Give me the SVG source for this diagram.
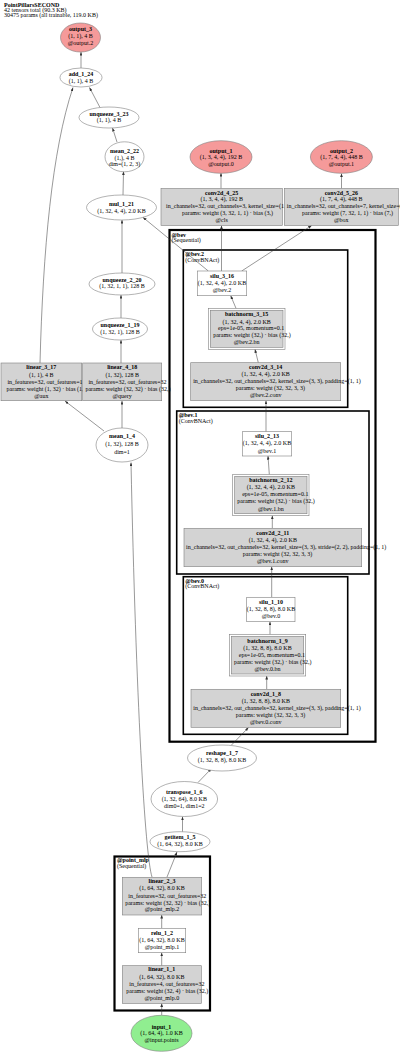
<svg xmlns="http://www.w3.org/2000/svg" width="400" height="1053" viewBox="0 0 400 1053">
<style>
text{font-family:"Liberation Serif","Times New Roman",serif;font-size:6px;fill:#000}
.c{text-anchor:middle}
.b{font-weight:bold}
.hd{font-size:6px}
.n{fill:#fff;stroke:#7f7f7f;stroke-width:0.6}
.g{fill:#d3d3d3;stroke:#7f7f7f;stroke-width:0.6}
.o{fill:#f59a9a;stroke:#7f7f7f;stroke-width:0.6}
.i{fill:#90ee90;stroke:#7f7f7f;stroke-width:0.6}
.pe{fill:none;stroke:#7f7f7f;stroke-width:0.6}
.cl{fill:none;stroke:#000;stroke-width:1.6}
.cl2{fill:none;stroke:#000;stroke-width:2.2}
.e{fill:none;stroke:#333;stroke-width:0.5;marker-end:url(#ah)}
</style>
<defs>
<marker id="ah" markerUnits="userSpaceOnUse" markerWidth="3.6" markerHeight="2.8" viewBox="0 0 10 10" refX="10" refY="5" orient="auto" preserveAspectRatio="none">
<path d="M0,0 L10,5 L0,10 z" fill="#333"/>
</marker>
</defs>
<rect width="400" height="1053" fill="#fff"/>
<g id="header">
<text class="hd b" x="4" y="6.5">PointPillarsSECOND</text>
<text class="hd" x="4" y="11.8">42 tensors total (90.3 KB)</text>
<text class="hd" x="4" y="17">30475 params (all trainable, 119.0 KB)</text>
</g>
<g id="clusters">
<g id="cluster_bev"><rect class="cl2" x="169.5" y="230" width="206" height="511.7"/><text class="b" x="171.5" y="236.5">@bev</text><text x="171.5" y="242.3">(Sequential)</text></g>
<g id="cluster_bev2"><rect class="cl" x="183.3" y="250" width="164.4" height="157.3"/><text class="b" x="185.3" y="256">@bev.2</text><text x="185.3" y="261.5">(ConvBNAct)</text></g>
<g id="cluster_bev1"><rect class="cl" x="176.7" y="411" width="192.3" height="163"/><text class="b" x="178.7" y="417">@bev.1</text><text x="178.7" y="422.5">(ConvBNAct)</text></g>
<g id="cluster_bev0"><rect class="cl" x="183.3" y="576.7" width="164.4" height="157.6"/><text class="b" x="185.3" y="582.7">@bev.0</text><text x="185.3" y="588.2">(ConvBNAct)</text></g>
<g id="cluster_point_mlp"><rect class="cl2" x="114.5" y="856.5" width="95.5" height="154"/><text class="b" x="117" y="862.3">@point_mlp</text><text x="117" y="867.8">(Sequential)</text></g>
</g>
<g id="connectors">
<path class="e" d="M81,68 L81,52"/>
<path class="e" d="M100,107.5 L89.5,87.5"/>
<path class="e" d="M40,363 C43,250 52,150 73,87.5"/>
<path class="e" d="M117,142 L112.5,128"/>
<path class="e" d="M123,195 L123.5,171.5"/>
<path class="e" d="M122,273 L122,220"/>
<path class="e" d="M121,318 L121,295"/>
<path class="e" d="M121,363 L121,340"/>
<path class="e" d="M122,428 L122,401"/>
<path class="e" d="M104,431 L65,401"/>
<path class="e" d="M152,877 C145,855 136,700 131,462.5"/>
<path class="e" d="M167,877 L177,852"/>
<path class="e" d="M182.5,831.7 L182.5,816.7"/>
<path class="e" d="M198,782.5 L211.5,768.5"/>
<path class="e" d="M231.5,745 L248.5,727.5"/>
<path class="e" d="M266.7,689.3 L266.7,676"/>
<path class="e" d="M270,634.3 L270,621.7"/>
<path class="e" d="M271.7,597.3 L271.7,566.7"/>
<path class="e" d="M272.3,528.3 L272.3,515.7"/>
<path class="e" d="M269.3,474.3 L268,456"/>
<path class="e" d="M266,431.7 L266,400.7"/>
<path class="e" d="M258.3,362.7 L255,349.3"/>
<path class="e" d="M236,308.3 L230.7,295.7"/>
<path class="e" d="M221.5,271 L221.5,225.5"/>
<path class="e" d="M241.7,271 L311.7,225.5"/>
<path class="e" d="M208.3,271 L143,217.4"/>
<path class="e" d="M221,188.5 L221,173"/>
<path class="e" d="M341.5,188.5 L341.5,173.5"/>
<path class="e" d="M161.7,1015.3 L161.7,1003.4"/>
<path class="e" d="M161.7,965.7 L161.7,952.7"/>
<path class="e" d="M161.7,928.3 L161.7,915"/>
</g>
<g id="output_3"><ellipse class="o" cx="80.5" cy="37.5" rx="20" ry="14.5"/><text class="c b" x="80.5" y="31.3">output_3</text><text class="c" x="80.5" y="38.3">(1, 1), 4 B</text><text class="c" x="80.5" y="45.3">@output.2</text></g>
<g id="add_1_24"><ellipse class="n" cx="81" cy="77.5" rx="21" ry="9.5"/><text class="c b" x="81" y="76">add_1_24</text><text class="c" x="81" y="83">(1, 1), 4 B</text></g>
<g id="unqueeze_3_23"><ellipse class="n" cx="109" cy="117.5" rx="30" ry="10.5"/><text class="c b" x="109" y="115.5">unqueeze_3_23</text><text class="c" x="109" y="122">(1, 1), 4 B</text></g>
<g id="mean_2_22"><ellipse class="n" cx="124.5" cy="156.8" rx="19.5" ry="15"/><text class="c b" x="124.5" y="152.5">mean_2_22</text><text class="c" x="124.5" y="159.5">(1,), 4 B</text><text class="c" x="124.5" y="166.3">dim=(1, 2, 3)</text></g>
<g id="mul_1_21"><ellipse class="n" cx="121.5" cy="207.5" rx="35" ry="12.5"/><text class="c b" x="121.5" y="206.3">mul_1_21</text><text class="c" x="121.5" y="212.8">(1, 32, 4, 4), 2.0 KB</text></g>
<g id="unqueeze_2_20"><ellipse class="n" cx="122" cy="284" rx="33" ry="11"/><text class="c b" x="122" y="281.5">unqueeze_2_20</text><text class="c" x="122" y="288">(1, 32, 1, 1), 128 B</text></g>
<g id="unqueeze_1_19"><ellipse class="n" cx="120" cy="329" rx="27.5" ry="11"/><text class="c b" x="120" y="327">unqueeze_1_19</text><text class="c" x="120" y="333.7">(1, 32, 1), 128 B</text></g>
<g id="linear_3_17"><rect class="g" x="1" y="363" width="80.7" height="37.7"/><text class="c b" x="41.3" y="369.3">linear_3_17</text><text class="c" x="41.3" y="376.6">(1, 1), 4 B</text><text class="c" x="45" y="383.6">in_features=32, out_features=1</text><text class="c" x="46" y="390.5">params: weight (1, 32) · bias (1,)</text><text class="c" x="41.3" y="397.6">@aux</text></g>
<g id="linear_4_18"><rect class="g" x="82.7" y="363" width="79" height="37.7"/><text class="c b" x="122.2" y="369.3">linear_4_18</text><text class="c" x="122.2" y="376.6">(1, 32), 128 B</text><text class="c" x="127.5" y="383.6">in_features=32, out_features=32</text><text class="c" x="127.9" y="390.5">params: weight (32, 32) · bias (32,)</text><text class="c" x="122.2" y="397.6">@query</text></g>
<g id="mean_1_4"><ellipse class="n" cx="122" cy="445" rx="26" ry="17"/><text class="c b" x="122" y="438.3">mean_1_4</text><text class="c" x="122" y="446">(1, 32), 128 B</text><text class="c" x="122" y="453.5">dim=1</text></g>
<g id="output_1"><ellipse class="o" cx="221" cy="157" rx="31" ry="16.3"/><text class="c b" x="221" y="152.6">output_1</text><text class="c" x="221" y="159.4">(1, 3, 4, 4), 192 B</text><text class="c" x="221" y="166.2">@output.0</text></g>
<g id="output_2"><ellipse class="o" cx="341.4" cy="157" rx="31" ry="16.3"/><text class="c b" x="341.4" y="152.6">output_2</text><text class="c" x="341.4" y="159.4">(1, 7, 4, 4), 448 B</text><text class="c" x="341.4" y="166.2">@output.1</text></g>
<g id="conv2d_4_25"><rect class="g" x="161" y="188.5" width="121.3" height="37"/><text class="c b" x="221.7" y="194.5">conv2d_4_25</text><text class="c" x="221.7" y="201.3">(1, 3, 4, 4), 192 B</text><text class="c" x="229" y="208">in_channels=32, out_channels=3, kernel_size=(1, 1)</text><text class="c" x="227.5" y="214.7">params: weight (3, 32, 1, 1) · bias (3,)</text><text class="c" x="221.7" y="221.5">@cls</text></g>
<g id="conv2d_5_26"><rect class="g" x="284.3" y="188.5" width="114" height="37"/><text class="c b" x="341.3" y="194.5">conv2d_5_26</text><text class="c" x="341.3" y="201.3">(1, 7, 4, 4), 448 B</text><text class="c" x="349.7" y="208">in_channels=32, out_channels=7, kernel_size=(1, 1)</text><text class="c" x="347.5" y="214.7">params: weight (7, 32, 1, 1) · bias (7,)</text><text class="c" x="341.3" y="221.5">@box</text></g>
<g id="silu_3_16"><rect class="n" x="197.3" y="271" width="49.4" height="24.7"/><text class="c b" x="222" y="277.7">silu_3_16</text><text class="c" x="222" y="284.7">(1, 32, 4, 4), 2.0 KB</text><text class="c" x="222" y="292">@bev.2</text></g>
<g id="batchnorm_3_15"><rect class="pe" x="208.3" y="308.3" width="76.7" height="41"/><rect class="g" x="210.3" y="310.3" width="72.7" height="37"/><text class="c b" x="246.7" y="316.3">batchnorm_3_15</text><text class="c" x="246.7" y="323.7">(1, 32, 4, 4), 2.0 KB</text><text class="c" x="251.2" y="330.4">eps=1e-05, momentum=0.1</text><text class="c" x="251.9" y="337.3">params: weight (32,) · bias (32,)</text><text class="c" x="246.7" y="344.3">@bev.2.bn</text></g>
<g id="conv2d_3_14"><rect class="g" x="190.7" y="362.7" width="150" height="38"/><text class="c b" x="265.7" y="369.3">conv2d_3_14</text><text class="c" x="265.7" y="376.3">(1, 32, 4, 4), 2.0 KB</text><text class="c" x="276.9" y="383.1">in_channels=32, out_channels=32, kernel_size=(3, 3), padding=(1, 1)</text><text class="c" x="270.4" y="390">params: weight (32, 32, 3, 3)</text><text class="c" x="265.7" y="397">@bev.2.conv</text></g>
<g id="silu_2_13"><rect class="n" x="242.3" y="431.7" width="49.4" height="24.3"/><text class="c b" x="267" y="438">silu_2_13</text><text class="c" x="267" y="445.3">(1, 32, 4, 4), 2.0 KB</text><text class="c" x="267" y="452.7">@bev.1</text></g>
<g id="batchnorm_2_12"><rect class="pe" x="232.7" y="474.3" width="76.3" height="41.4"/><rect class="g" x="234.7" y="476.3" width="72.3" height="37.4"/><text class="c b" x="270.8" y="482">batchnorm_2_12</text><text class="c" x="270.8" y="489.3">(1, 32, 4, 4), 2.0 KB</text><text class="c" x="275.3" y="496.3">eps=1e-05, momentum=0.1</text><text class="c" x="276" y="503.3">params: weight (32,) · bias (32,)</text><text class="c" x="270.8" y="510.7">@bev.1.bn</text></g>
<g id="conv2d_2_11"><rect class="g" x="184" y="528.3" width="177.7" height="38.4"/><text class="c b" x="272.8" y="535">conv2d_2_11</text><text class="c" x="272.8" y="542.3">(1, 32, 4, 4), 2.0 KB</text><text class="c" x="286.2" y="549">in_channels=32, out_channels=32, kernel_size=(3, 3), stride=(2, 2), padding=(1, 1)</text><text class="c" x="277.5" y="556">params: weight (32, 32, 3, 3)</text><text class="c" x="272.8" y="563.3">@bev.1.conv</text></g>
<g id="silu_1_10"><rect class="n" x="246.7" y="597.3" width="48.3" height="24.4"/><text class="c b" x="271" y="604.3">silu_1_10</text><text class="c" x="271" y="611.3">(1, 32, 8, 8), 8.0 KB</text><text class="c" x="271" y="618.3">@bev.0</text></g>
<g id="batchnorm_1_9"><rect class="pe" x="229.3" y="634.3" width="76.4" height="41.7"/><rect class="g" x="231.3" y="636.3" width="72.4" height="37.7"/><text class="c b" x="267.5" y="642.7">batchnorm_1_9</text><text class="c" x="267.5" y="650">(1, 32, 8, 8), 8.0 KB</text><text class="c" x="272" y="657">eps=1e-05, momentum=0.1</text><text class="c" x="272.7" y="664.3">params: weight (32,) · bias (32,)</text><text class="c" x="267.5" y="671.3">@bev.0.bn</text></g>
<g id="conv2d_1_8"><rect class="g" x="191" y="689.3" width="149.7" height="38"/><text class="c b" x="265.8" y="695.7">conv2d_1_8</text><text class="c" x="265.8" y="702.7">(1, 32, 8, 8), 8.0 KB</text><text class="c" x="277" y="709.7">in_channels=32, out_channels=32, kernel_size=(3, 3), padding=(1, 1)</text><text class="c" x="270.5" y="717">params: weight (32, 32, 3, 3)</text><text class="c" x="265.8" y="724">@bev.0.conv</text></g>
<g id="reshape_1_7"><ellipse class="n" cx="222" cy="758" rx="34.5" ry="13"/><text class="c b" x="222" y="755.3">reshape_1_7</text><text class="c" x="222" y="762">(1, 32, 8, 8), 8.0 KB</text></g>
<g id="transpose_1_6"><ellipse class="n" cx="184.3" cy="799" rx="33.3" ry="17.5"/><text class="c b" x="184.3" y="794.3">transpose_1_6</text><text class="c" x="184.3" y="801.3">(1, 32, 64), 8.0 KB</text><text class="c" x="184.3" y="808">dim0=1, dim1=2</text></g>
<g id="getitem_1_5"><ellipse class="n" cx="180" cy="841.7" rx="30" ry="10"/><text class="c b" x="180" y="839.3">getitem_1_5</text><text class="c" x="180" y="846.3">(1, 64, 32), 8.0 KB</text></g>
<g id="linear_2_3"><rect class="g" x="122.3" y="877.3" width="79.4" height="37.7"/><text class="c b" x="162" y="883">linear_2_3</text><text class="c" x="162" y="890.3">(1, 64, 32), 8.0 KB</text><text class="c" x="167.3" y="897.5">in_features=32, out_features=32</text><text class="c" x="167.7" y="904.6">params: weight (32, 32) · bias (32,)</text><text class="c" x="162" y="911.3">@point_mlp.2</text></g>
<g id="relu_1_2"><rect class="n" x="138.3" y="928.3" width="47.4" height="24.4"/><text class="c b" x="162" y="935.3">relu_1_2</text><text class="c" x="162" y="942">(1, 64, 32), 8.0 KB</text><text class="c" x="162" y="949.3">@point_mlp.1</text></g>
<g id="linear_1_1"><rect class="g" x="122.3" y="965.7" width="79" height="37.7"/><text class="c b" x="161.8" y="971.4">linear_1_1</text><text class="c" x="161.8" y="978.6">(1, 64, 32), 8.0 KB</text><text class="c" x="166.9" y="985.6">in_features=4, out_features=32</text><text class="c" x="167.3" y="992.6">params: weight (32, 4) · bias (32,)</text><text class="c" x="161.8" y="999.6">@point_mlp.0</text></g>
<g id="input_1"><ellipse class="i" cx="161.5" cy="1033.3" rx="30.5" ry="18"/><text class="c b" x="161.5" y="1028.7">input_1</text><text class="c" x="161.5" y="1035.4">(1, 64, 4), 1.0 KB</text><text class="c" x="161.5" y="1042">@input.points</text></g>
</svg>
